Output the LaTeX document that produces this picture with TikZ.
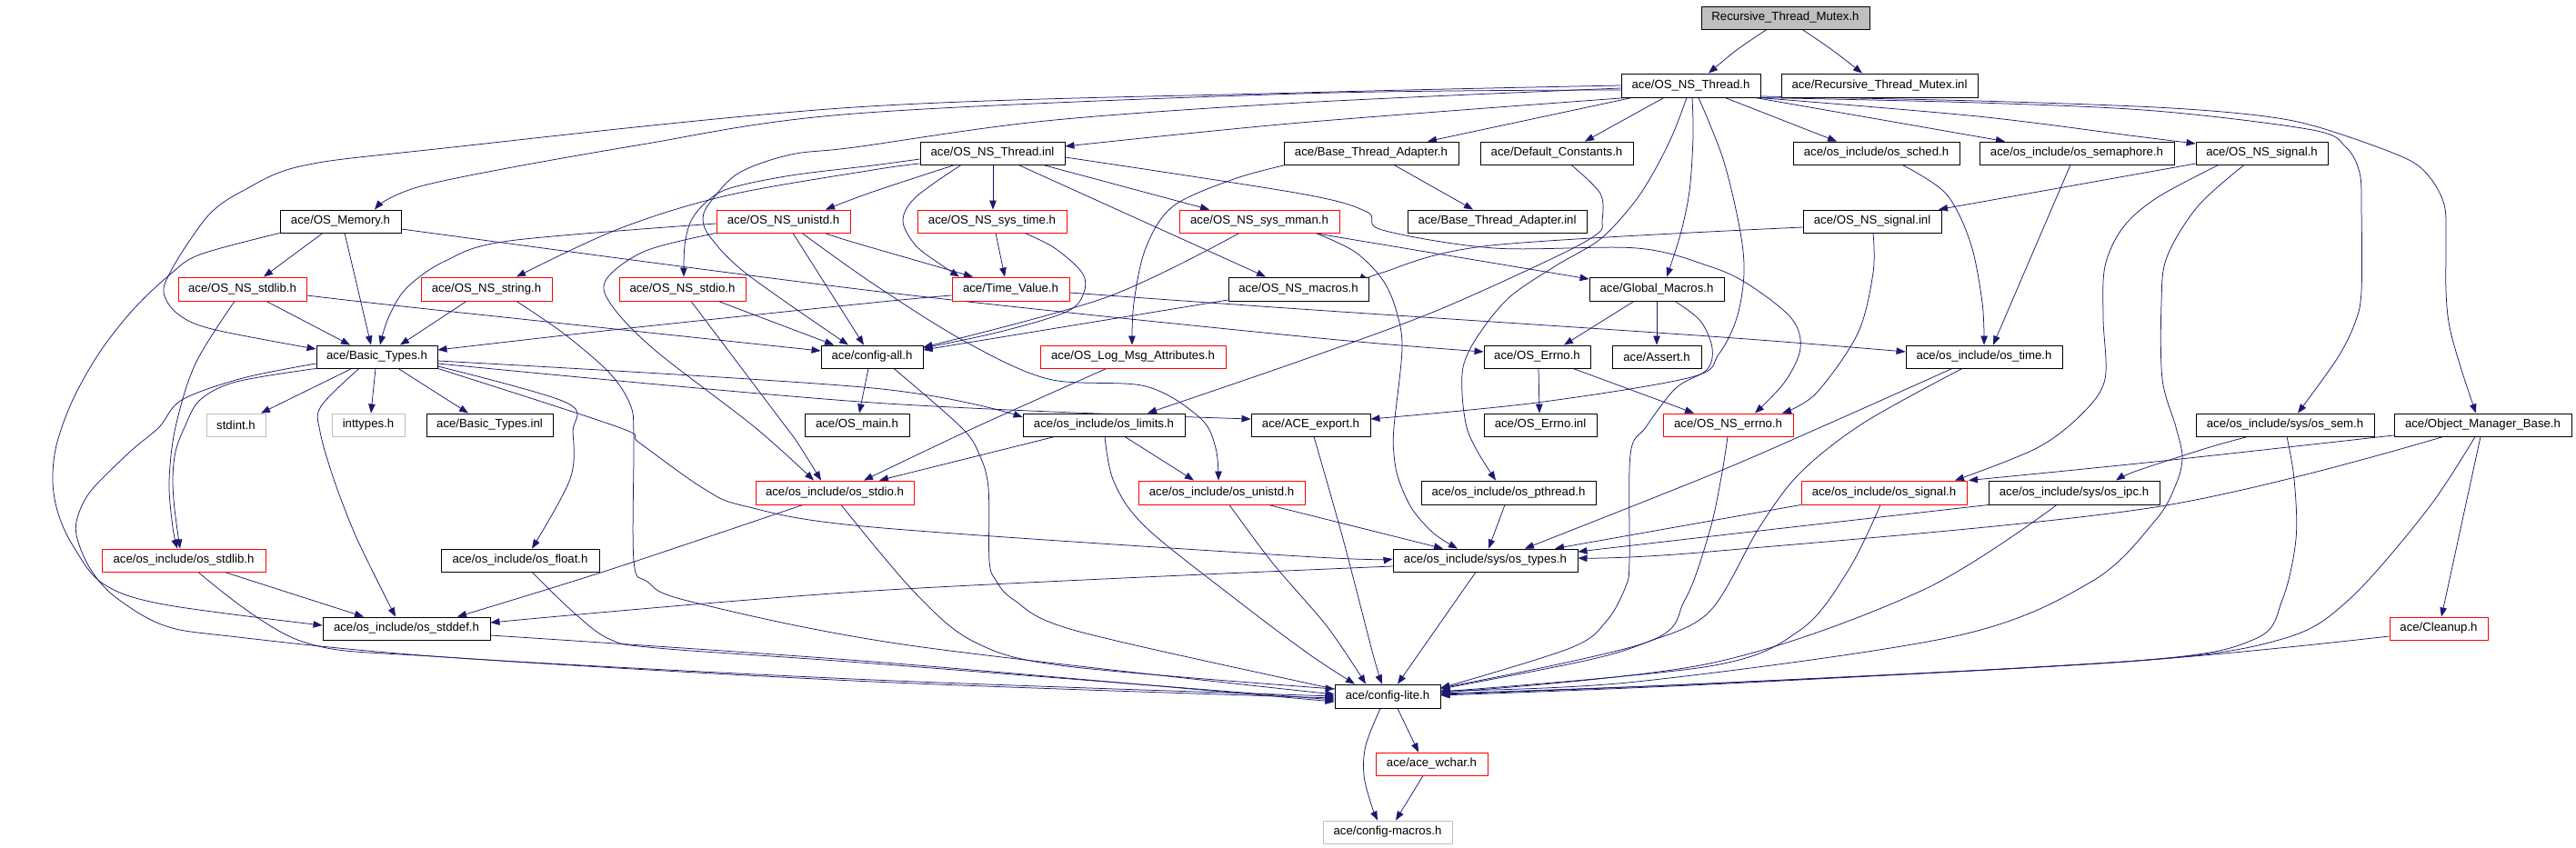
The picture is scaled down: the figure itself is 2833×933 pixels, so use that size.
\documentclass[tikz,border=0pt]{standalone}
\usepackage{fontspec}
\setmainfont{Liberation Sans}
\usetikzlibrary{arrows.meta}
\pgfdeclarelayer{edges}
\pgfsetlayers{edges,main}
\definecolor{edgec}{RGB}{25,25,112}
\definecolor{redb}{RGB}{255,0,0}
\definecolor{grayb}{RGB}{191,191,191}
\newcommand\nd[7]{\node[#6,minimum width={#4pt-#2pt},minimum height={#5pt-#3pt}] (#1) at ({(#2+#4)/2},{(#3+#5)/2}) {#7};}
\newcommand\ed[1]{\draw[edge] plot[smooth,tension=0.55] coordinates {#1};}
\begin{document}
\begin{tikzpicture}[x=1pt,y=-1pt,
  box/.style={draw=black,fill=white,line width=0.9pt,inner sep=0pt,text=black,font=\fontsize{13.2}{15}\selectfont},
  nb/.style={box},
  rb/.style={box,draw=redb},
  gb/.style={box,draw=grayb},
  root/.style={box,fill=grayb},
  edge/.style={draw=edgec,line width=0.75pt,-{Triangle[length=10pt,width=7.5pt,fill=edgec]}}]
\useasboundingbox (0,0) rectangle (2833,933);
% nodes
\nd{rtmh}{1871}{7}{2056}{32}{root}{Recursive\_Thread\_Mutex.h}
\nd{nsth}{1783}{81}{1936}{107}{nb}{ace/OS\_NS\_Thread.h}
\nd{rtmi}{1959}{81}{2175}{107}{nb}{ace/Recursive\_Thread\_Mutex.inl}
\nd{nsti}{1012}{156}{1171}{181}{nb}{ace/OS\_NS\_Thread.inl}
\nd{btah}{1412}{156}{1604}{181}{nb}{ace/Base\_Thread\_Adapter.h}
\nd{defc}{1628}{156}{1796}{181}{nb}{ace/Default\_Constants.h}
\nd{sched}{1972}{156}{2155}{181}{nb}{ace/os\_include/os\_sched.h}
\nd{sema}{2177}{156}{2391}{181}{nb}{ace/os\_include/os\_semaphore.h}
\nd{nssig}{2415}{156}{2560}{181}{nb}{ace/OS\_NS\_signal.h}
\nd{mem}{308}{231}{441}{256}{nb}{ace/OS\_Memory.h}
\nd{nsuni}{788}{231}{935}{256}{rb}{ace/OS\_NS\_unistd.h}
\nd{systime}{1009}{231}{1173}{256}{rb}{ace/OS\_NS\_sys\_time.h}
\nd{mman}{1297}{231}{1473}{256}{rb}{ace/OS\_NS\_sys\_mman.h}
\nd{btai}{1548}{231}{1745}{256}{nb}{ace/Base\_Thread\_Adapter.inl}
\nd{nssigi}{1983}{231}{2135}{256}{nb}{ace/OS\_NS\_signal.inl}
\nd{nsstdlib}{196}{305}{337}{331}{rb}{ace/OS\_NS\_stdlib.h}
\nd{nsstr}{463}{305}{607}{331}{rb}{ace/OS\_NS\_string.h}
\nd{nsstdio}{681}{305}{820}{331}{rb}{ace/OS\_NS\_stdio.h}
\nd{tv}{1047}{305}{1176}{331}{rb}{ace/Time\_Value.h}
\nd{macros}{1351}{305}{1505}{331}{nb}{ace/OS\_NS\_macros.h}
\nd{gm}{1748}{305}{1896}{331}{nb}{ace/Global\_Macros.h}
\nd{bt}{348}{380}{481}{405}{nb}{ace/Basic\_Types.h}
\nd{call}{903}{380}{1015}{405}{nb}{ace/config-all.h}
\nd{logm}{1144}{380}{1348}{405}{rb}{ace/OS\_Log\_Msg\_Attributes.h}
\nd{errno}{1632}{380}{1749}{405}{nb}{ace/OS\_Errno.h}
\nd{assert}{1773}{380}{1871}{405}{nb}{ace/Assert.h}
\nd{ostime}{2096}{380}{2268}{405}{nb}{ace/os\_include/os\_time.h}
\nd{stdint}{227}{455}{292}{480}{gb}{stdint.h}
\nd{inttypes}{365}{455}{445}{480}{gb}{inttypes.h}
\nd{bti}{469}{455}{608}{480}{nb}{ace/Basic\_Types.inl}
\nd{osmain}{885}{455}{1000}{480}{nb}{ace/OS\_main.h}
\nd{limits}{1125}{455}{1303}{480}{nb}{ace/os\_include/os\_limits.h}
\nd{export}{1376}{455}{1507}{480}{nb}{ace/ACE\_export.h}
\nd{errnoi}{1632}{455}{1756}{480}{nb}{ace/OS\_Errno.inl}
\nd{nserrno}{1829}{455}{1972}{480}{rb}{ace/OS\_NS\_errno.h}
\nd{sem}{2415}{455}{2611}{480}{nb}{ace/os\_include/sys/os\_sem.h}
\nd{omb}{2633}{455}{2828}{480}{nb}{ace/Object\_Manager\_Base.h}
\nd{osstdio}{831}{529}{1005}{555}{rb}{ace/os\_include/os\_stdio.h}
\nd{osuni}{1252}{529}{1435}{555}{rb}{ace/os\_include/os\_unistd.h}
\nd{pthr}{1563}{529}{1755}{555}{nb}{ace/os\_include/os\_pthread.h}
\nd{ossig}{1981}{529}{2163}{555}{rb}{ace/os\_include/os\_signal.h}
\nd{ipc}{2187}{529}{2375}{555}{nb}{ace/os\_include/sys/os\_ipc.h}
\nd{osstdlib}{112}{604}{292}{629}{rb}{ace/os\_include/os\_stdlib.h}
\nd{float}{485}{604}{659}{629}{nb}{ace/os\_include/os\_float.h}
\nd{types}{1532}{604}{1735}{629}{nb}{ace/os\_include/sys/os\_types.h}
\nd{stddef}{355}{679}{539}{704}{nb}{ace/os\_include/os\_stddef.h}
\nd{cleanup}{2628}{679}{2736}{704}{rb}{ace/Cleanup.h}
\nd{clite}{1468}{753}{1584}{779}{nb}{ace/config-lite.h}
\nd{wchar}{1513}{828}{1636}{853}{rb}{ace/ace\_wchar.h}
\nd{cmac}{1455}{903}{1597}{928}{gb}{ace/config-macros.h}
% edges
\begin{pgfonlayer}{edges}
\ed{(1943,0 |- rtmh.south) (1910,55) (1879,0 |- nsth.north)}
\ed{(1982,0 |- rtmh.south) (2015,55) (2048,0 |- rtmi.north)}
\ed{(1790,0 |- nsth.south) (1430,135) (nsti.east |- 0,161)}
\ed{(1795,0 |- nsth.south) (1570,0 |- btah.north)}
\ed{(1830,0 |- nsth.south) (1743,0 |- defc.north)}
\ed{(1897,0 |- nsth.south) (2020,0 |- sched.north)}
\ed{(1930,0 |- nsth.south) (2205,0 |- sema.north)}
\ed{(1934,0 |- nsth.south) (2175,128) (2350,150) (nssig.west |- 0,158)}
\ed{(nsth.south east) (2175,113) (2370,122) (2543,143) (2580,162) (2595,190) (2597,230) (2597,320) (2590,355) (2570,395) (2527,0 |- sem.north)}
\ed{(nsth.east |- 0,106) (2175,111) (2370,118) (2483,127) (2550,140) (2643,173) (2672,195) (2688,225) (2690,260) (2690,320) (2694,360) (2707,407) (2723,0 |- omb.north)}
\ed{(1861,0 |- nsth.south) (1862,150) (1858,210) (1848,258) (1833,0 |- gm.north)}
\ed{(nsth.west |- 0,99) (1430,103) (940,125) (700,160) (470,203) (412,0 |- mem.north)}
\ed{(nsth.west |- 0,94) (1430,102) (940,118) (470,165) (330,183) (267,210) (233,233) (207,267) (187,300) (180,322) (195,345) (233,362) (bt.west |- 0,384)}
\ed{(nsth.west |- 0,97) (1430,113) (1150,133) (940,162) (870,170) (813,190) (783,220) (773,240) (782,262) (822,302) (933,0 |- call.north)}
\ed{(1855,0 |- nsth.south) (1840,147) (1820,187) (1797,223) (1760,263) (1710,293) (1660,327) (1627,367) (1610,400) (1608,433) (1613,470) (1625,497) (1645,0 |- pthr.north)}
\ed{(1868,0 |- nsth.south) (1895,175) (1913,250) (1918,300) (1910,350) (1890,390) (1860,415) (1690,443) (export.east |- 0,461)}
\ed{(1728,0 |- defc.south) (1760,213) (1762,243) (1757,257) (1710,283) (1577,343) (1430,397) (1262,0 |- limits.north)}
\ed{(1050,0 |- nsti.south) (960,211) (908,0 |- nsuni.north)}
\ed{(nsti.west |- 0,180) (960,187) (800,215) (680,252) (568,0 |- nsstr.north)}
\ed{(nsti.west |- 0,175) (960,182) (870,193) (803,207) (777,222) (760,243) (753,270) (752,0 |- nsstdio.north)}
\ed{(1057,0 |- nsti.south) (1007,217) (993,243) (1007,270) (1033,290) (1055,0 |- tv.north)}
\ed{(1092,0 |- nsti.south) (1092,0 |- systime.north)}
\ed{(1120,0 |- nsti.south) (1392,0 |- macros.north)}
\ed{(1147,0 |- nsti.south) (1330,0 |- mman.north)}
\ed{(nsti.east |- 0,173) (1430,213) (1503,233) (1520,253) (1643,273) (1800,273) (1880,293) (1923,313) (1970,350) (1980,383) (1963,420) (1930,0 |- nserrno.north)}
\ed{(1533,0 |- btah.south) (1620,0 |- btai.north)}
\ed{(1414,0 |- btah.south) (1357,197) (1290,227) (1260,273) (1247,333) (1245,0 |- logm.north)}
\ed{(2092,0 |- sched.south) (2140,213) (2167,267) (2180,333) (2182,0 |- ostime.north)}
\ed{(2277,0 |- sema.south) (2192,0 |- ostime.north)}
\ed{(nssig.west |- 0,180) (2370,188) (2132,0 |- nssigi.north)}
\ed{(2440,0 |- nssig.south) (2373,217) (2335,250) (2315,293) (2313,350) (2315,417) (2290,455) (2240,493) (2150,0 |- ossig.north)}
\ed{(2468,0 |- nssig.south) (2417,227) (2383,283) (2377,333) (2378,417) (2393,470) (2400,503) (2393,533) (2370,573) (2300,640) (2150,700) (1800,750) (clite.east |- 0,760)}
\ed{(nssigi.west |- 0,250) (1640,270) (1520,300) (macros.east |- 0,308)}
\ed{(2060,0 |- nssigi.south) (2060,300) (2043,367) (1997,433) (1960,0 |- nserrno.north)}
\ed{(355,0 |- mem.south) (290,0 |- nsstdlib.north)}
\ed{(379,0 |- mem.south) (408,0 |- bt.north)}
\ed{(mem.south west) (220,280) (187,302) (147,340) (110,387) (80,440) (62,490) (58,530) (64,565) (80,600) (113,642) (180,665) (stddef.west |- 0,688)}
\ed{(mem.east |- 0,252) (960,320) (1430,370) (errno.west |- 0,387)}
\ed{(258,0 |- nsstdlib.south) (215,400) (193,470) (186,530) (190,580) (195,0 |- osstdlib.north)}
\ed{(293,0 |- nsstdlib.south) (385,0 |- bt.north)}
\ed{(nsstdlib.east |- 0,325) (470,340) (call.west |- 0,386)}
\ed{(513,0 |- nsstr.south) (440,0 |- bt.north)}
\ed{(568,0 |- nsstr.south) (620,367) (670,410) (693,445) (697,480) (697,617) (712,640) (760,662) (1000,710) (clite.west |- 0,764)}
\ed{(760,0 |- nsstdio.south) (857,460) (877,487) (903,0 |- osstdio.north)}
\ed{(790,0 |- nsstdio.south) (917,0 |- call.north)}
\ed{(nsuni.west |- 0,246) (560,265) (490,287) (447,317) (427,350) (418,0 |- bt.north)}
\ed{(872,0 |- nsuni.south) (950,0 |- call.north)}
\ed{(882,0 |- nsuni.south) (960,312) (1060,375) (1153,417) (1260,425) (1320,460) (1337,493) (1340,0 |- osuni.north)}
\ed{(907,0 |- nsuni.south) (940,267) (1070,0 |- tv.north)}
\ed{(nsuni.south west) (710,276) (667,307) (672,335) (720,385) (830,470) (895,0 |- osstdio.north)}
\ed{(1095,0 |- systime.south) (1105,0 |- tv.north)}
\ed{(1127,0 |- systime.south) (1160,273) (1190,300) (1192,322) (1173,343) (1100,365) (call.east |- 0,383)}
\ed{(1363,0 |- mman.south) (1217,327) (call.east |- 0,382)}
\ed{(1445,0 |- mman.south) (gm.west |- 0,307)}
\ed{(1447,0 |- mman.south) (1490,277) (1520,307) (1535,340) (1542,383) (1533,470) (1533,500) (1538,527) (1553,560) (1577,587) (1603,0 |- types.north)}
\ed{(tv.west |- 0,325) (960,333) (683,362) (bt.east |- 0,385)}
\ed{(tv.east |- 0,322) (1430,340) (1880,370) (ostime.west |- 0,387)}
\ed{(macros.west |- 0,330) (call.east |- 0,385)}
\ed{(1797,0 |- gm.south) (1720,0 |- errno.north)}
\ed{(1822,0 |- gm.south) (1822,0 |- assert.north)}
\ed{(1842,0 |- gm.south) (1870,353) (1883,383) (1877,407) (1843,427) (1810,470) (1793,500) (1792,617) (1788,645) (1767,683) (1727,713) (clite.east |- 0,757)}
\ed{(1692,0 |- errno.south) (1693,0 |- errnoi.north)}
\ed{(1730,0 |- errno.south) (1863,0 |- nserrno.north)}
\ed{(1217,0 |- logm.south) (1073,470) (950,0 |- osstdio.north)}
\ed{(1160,0 |- limits.south) (967,0 |- osstdio.north)}
\ed{(1237,0 |- limits.south) (1313,0 |- osuni.north)}
\ed{(1215,0 |- limits.south) (1225,530) (1260,580) (1360,660) (1440,720) (1490,0 |- clite.north)}
\ed{(883,0 |- osstdio.south) (670,627) (503,0 |- stddef.north)}
\ed{(925,0 |- osstdio.south) (1007,653) (1073,707) (1173,733) (clite.west |- 0,758)}
\ed{(1395,0 |- osuni.south) (1587,0 |- types.north)}
\ed{(1352,0 |- osuni.south) (1400,620) (1460,690) (1502,0 |- clite.north)}
\ed{(1655,0 |- pthr.south) (1637,0 |- types.north)}
\ed{(2147,0 |- ostime.south) (2007,468) (1880,523) (1677,0 |- types.north)}
\ed{(2158,0 |- ostime.south) (2050,465) (1980,520) (1935,580) (1880,673) (1810,707) (1743,727) (clite.east |- 0,758)}
\ed{(1900,0 |- nserrno.south) (1893,525) (1880,585) (1853,660) (1810,707) (clite.east |- 0,757)}
\ed{(ossig.south west) (1710,0 |- types.north)}
\ed{(2068,0 |- ossig.south) (2033,627) (1980,693) (1880,733) (clite.east |- 0,761)}
\ed{(2187,0 |- ipc.south) (1900,588) (types.east |- 0,607)}
\ed{(2262,0 |- ipc.south) (2113,650) (1880,730) (clite.east |- 0,762)}
\ed{(2472,0 |- sem.south) (2427,493) (2350,518) (2327,0 |- ipc.north)}
\ed{(2515,0 |- sem.south) (2523,527) (2525,593) (2510,660) (2480,703) (2350,727) (1880,752) (clite.east |- 0,763)}
\ed{(omb.west |- 0,479) (2370,508) (2165,0 |- ossig.north)}
\ed{(2687,0 |- omb.south) (2370,558) (1880,607) (types.east |- 0,614)}
\ed{(2722,0 |- omb.south) (2670,560) (2583,660) (2510,703) (2350,727) (1880,752) (clite.east |- 0,764)}
\ed{(2728,0 |- omb.south) (2685,0 |- cleanup.north)}
\ed{(cleanup.west |- 0,700) (2350,727) (1880,753) (clite.east |- 0,765)}
\ed{(387,0 |- bt.south) (287,0 |- stdint.north)}
\ed{(413,0 |- bt.south) (408,0 |- inttypes.north)}
\ed{(438,0 |- bt.south) (515,0 |- bti.north)}
\ed{(395,0 |- bt.south) (353,447) (352,475) (367,527) (390,587) (417,643) (435,0 |- stddef.north)}
\ed{(bt.south west) (260,420) (220,440) (203,470) (193,497) (190,527) (192,560) (198,0 |- osstdlib.north)}
\ed{(bt.west |- 0,400) (267,416) (200,440) (175,470) (143,497) (100,540) (85,570) (85,593) (100,627) (127,657) (180,688) (253,700) (490,723) (960,750) (clite.west |- 0,768)}
\ed{(bt.east |- 0,397) (960,427) (limits.west |- 0,459)}
\ed{(bt.east |- 0,400) (960,443) (export.west |- 0,461)}
\ed{(bt.east |- 0,403) (623,443) (630,475) (627,527) (585,0 |- float.north)}
\ed{(bt.south east) (680,470) (703,487) (773,537) (820,557) (960,580) (1430,612) (types.west |- 0,615)}
\ed{(585,0 |- float.south) (630,673) (670,703) (723,713) (960,730) (clite.west |- 0,770)}
\ed{(stddef.east |- 0,699) (960,728) (clite.west |- 0,772)}
\ed{(247,0 |- osstdlib.south) (400,0 |- stddef.north)}
\ed{(218,0 |- osstdlib.south) (330,705) (490,723) (960,748) (clite.west |- 0,766)}
\ed{(types.west |- 0,623) (960,650) (stddef.east |- 0,685)}
\ed{(1623,0 |- types.south) (1537,0 |- clite.north)}
\ed{(955,0 |- call.south) (945,0 |- osmain.north)}
\ed{(983,0 |- call.south) (1057,470) (1077,500) (1087,537) (1088,617) (1095,638) (1115,660) (1180,693) (1430,750) (clite.west |- 0,757)}
\ed{(1445,0 |- export.south) (1477,593) (1510,720) (1520,0 |- clite.north)}
\ed{(1537,0 |- clite.south) (1560,0 |- wchar.north)}
\ed{(1518,0 |- clite.south) (1502,820) (1500,853) (1508,885) (1515,0 |- cmac.north)}
\ed{(1565,0 |- wchar.south) (1535,0 |- cmac.north)}
\end{pgfonlayer}
\end{tikzpicture}
\end{document}
